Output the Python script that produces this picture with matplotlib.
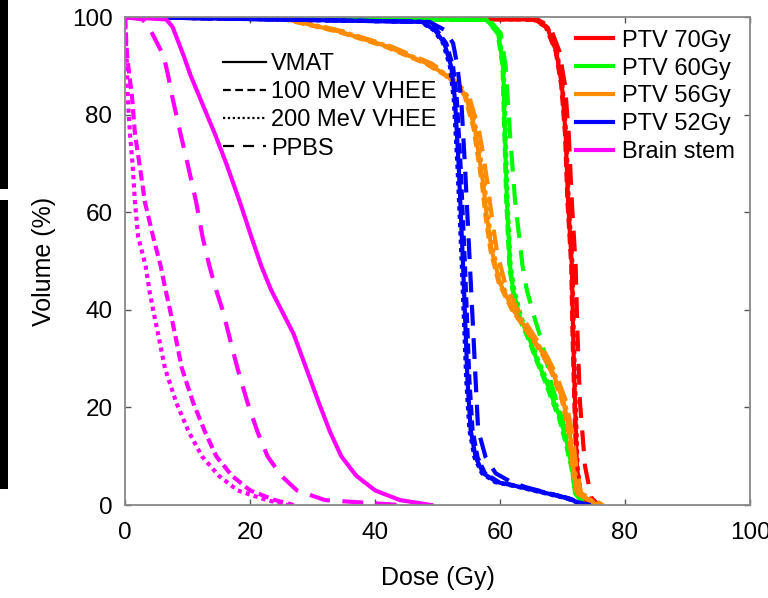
import matplotlib
matplotlib.use("Agg")
import matplotlib.pyplot as plt
from matplotlib.lines import Line2D
from matplotlib.patches import Rectangle

plt.rcParams['font.family'] = ['Liberation Sans', 'DejaVu Sans']

# DVH data: volume levels (%) and dose (Gy) per technique
ptv70_vol = [100, 99.5, 98, 93, 86, 76, 62, 49, 35, 21, 8, 1.5, 0]
ptv70_vmat = [0, 65.5, 67.5, 69.0, 69.9, 70.5, 70.9, 71.5, 71.7, 72.0, 72.3, 72.8, 74.5]
ptv70_v100 = [0, 65.3, 67.3, 68.9, 69.8, 70.4, 70.8, 71.4, 71.6, 71.9, 72.2, 72.9, 74.8]
ptv70_v200 = [0, 65.6, 67.6, 69.1, 70.0, 70.6, 71.0, 71.6, 71.8, 72.1, 72.4, 73.0, 75.0]
ptv70_ppbs = [0, 66.0, 68.0, 69.5, 70.4, 71.0, 71.5, 72.1, 72.4, 72.8, 73.6, 74.6, 75.8]

ptv60_vol = [100, 99.4, 96.7, 90, 76, 62.5, 49, 44, 38.5, 33.8, 29.7, 25, 21.5, 18, 12.7, 7.8, 2.4, 0]
ptv60_vmat = [0, 57.9, 59.7, 60.5, 60.8, 61.1, 61.6, 62.1, 63.2, 64.8, 65.9, 67.5, 68.5, 69.6, 70.7, 71.5, 72.0, 73.5]
ptv60_v100 = [0, 57.8, 59.6, 60.4, 60.7, 61.0, 61.5, 62.0, 63.0, 64.6, 65.8, 67.3, 68.3, 69.4, 70.5, 71.4, 72.1, 73.8]
ptv60_v200 = [0, 58.0, 59.8, 60.6, 60.9, 61.2, 61.7, 62.3, 63.4, 65.0, 66.1, 67.7, 68.7, 69.8, 70.9, 71.6, 72.2, 73.6]
ptv60_ppbs = [0, 58.3, 60.1, 60.9, 61.6, 62.4, 63.6, 64.3, 65.5, 66.6, 67.4, 68.2, 69.0, 69.9, 70.9, 71.7, 72.3, 74.0]

ptv56_vol = [100, 99.5, 97, 94, 90.5, 88, 84, 77, 72.7, 66, 59, 52, 45.5, 40, 35, 31, 27, 21.5, 14.7, 7.8, 2.4, 0]
ptv56_vmat = [0, 26, 34.4, 41.9, 48.3, 51.5, 54.5, 56.0, 56.5, 57.3, 57.9, 58.7, 60.0, 62.1, 64.8, 66.9, 68.5, 70.1, 71.2, 71.7, 72.3, 75.5]
ptv56_v100 = [0, 25.5, 34.0, 41.5, 48.0, 51.3, 54.3, 55.8, 56.3, 57.1, 57.7, 58.5, 59.8, 61.9, 64.6, 66.7, 68.3, 69.9, 71.0, 71.6, 72.4, 75.8]
ptv56_v200 = [0, 26.5, 34.8, 42.2, 48.6, 51.7, 54.7, 56.2, 56.7, 57.5, 58.1, 58.9, 60.2, 62.3, 65.0, 67.1, 68.7, 70.3, 71.4, 71.9, 72.6, 76.0]
ptv56_ppbs = [0, 27.0, 35.0, 42.5, 49.0, 52.0, 55.0, 56.6, 57.2, 58.0, 58.7, 59.5, 60.8, 62.8, 65.3, 67.3, 68.9, 70.5, 71.6, 72.2, 73.0, 76.5]

ptv52_vol = [100, 99, 97.3, 94.6, 89.8, 83, 69.3, 48.8, 25.6, 15.4, 9.8, 6.5, 4.7, 3.7, 2.4, 1.4, 0.4, 0]
ptv52_vmat = [0, 47.5, 49.6, 51.1, 52.2, 52.8, 53.4, 54.1, 54.8, 55.3, 56.1, 57.3, 59.5, 63.2, 67.5, 70.7, 72.8, 74.0]
ptv52_v100 = [0, 47.8, 49.9, 51.4, 52.5, 53.1, 53.7, 54.4, 55.1, 55.6, 56.4, 57.6, 59.8, 63.5, 67.8, 70.9, 73.0, 74.2]
ptv52_v200 = [0, 47.3, 49.4, 50.9, 52.0, 52.6, 53.2, 53.9, 54.6, 55.1, 55.9, 57.1, 59.2, 62.9, 67.2, 70.5, 72.6, 73.8]
ptv52_ppbs = [0, 48.7, 51.2, 52.5, 53.2, 53.8, 54.4, 55.2, 56.1, 56.5, 57.7, 59.3, 61.8, 64.0, 67.8, 70.9, 73.0, 74.5]

brain_vol = [100, 99.5, 98, 95, 92, 88, 84, 80, 76, 70, 62, 55, 49, 44, 40, 35, 28, 21, 15, 10, 6, 3, 1, 0]
brain_vmat = [0, 6.6, 7.6, 8.5, 9.4, 10.5, 11.8, 13.1, 14.4, 16.2, 18.4, 20.2, 21.8, 23.4, 25.0, 27.0, 29.0, 31.0, 32.8, 34.6, 37.0, 40.0, 44.0, 49.0]
brain_v100 = [0, 0.05, 0.1, 0.2, 0.35, 0.7, 1.1, 1.35, 1.6, 2.3, 3.2, 4.5, 5.7, 6.5, 7.2, 8.0, 9.1, 10.9, 12.8, 14.6, 17.1, 20.0, 24.0, 27.0]
brain_v200 = [0, 0.0, 0.05, 0.15, 0.25, 0.35, 0.45, 0.6, 0.8, 1.2, 1.6, 2.1, 3.3, 3.9, 4.5, 5.3, 6.4, 8.2, 10.2, 12.3, 15.0, 18.0, 22.7, 26.0]
brain_ppbs = [0, 2.8, 3.8, 5.0, 6.2, 6.9, 7.5, 8.2, 8.9, 10.0, 11.4, 12.4, 13.5, 14.6, 15.6, 16.6, 18.0, 19.6, 21.2, 22.8, 25.0, 27.5, 32.0, 44.0]

structures = ['PTV 70Gy', 'PTV 60Gy', 'PTV 56Gy', 'PTV 52Gy', 'Brain stem']
techniques = ['VMAT', '100 MeV VHEE', '200 MeV VHEE', 'PPBS']
colors = ['#ff0000', '#00ff00', '#ff8c00', '#0000ff', '#ff00ff']
curves = [
    (ptv70_vol, [ptv70_vmat, ptv70_v100, ptv70_v200, ptv70_ppbs]),
    (ptv60_vol, [ptv60_vmat, ptv60_v100, ptv60_v200, ptv60_ppbs]),
    (ptv56_vol, [ptv56_vmat, ptv56_v100, ptv56_v200, ptv56_ppbs]),
    (ptv52_vol, [ptv52_vmat, ptv52_v100, ptv52_v200, ptv52_ppbs]),
    (brain_vol, [brain_vmat, brain_v100, brain_v200, brain_ppbs]),
]
plot_styles = ['-', (0, (2.5, 1.2)), (0, (1, 1)), (0, (5, 3))]
legend_styles = ['-', (0, (3.5, 2)), (0, (1, 1.2)), (0, (5, 4))]

fig = plt.figure(figsize=(7.68, 5.98), dpi=100)
ax = fig.add_axes([125 / 768, 1 - 505 / 598, 625 / 768, 488 / 598])

for (vol, doses), col in zip(curves, colors):
    for dose, ls in zip(doses, plot_styles):
        ax.plot(dose, vol, color=col, lw=3, ls=ls)

ax.set_xlim(0, 100)
ax.set_ylim(0, 100)
ax.set_xticks([0, 20, 40, 60, 80, 100])
ax.set_yticks([0, 20, 40, 60, 80, 100])
ax.tick_params(direction='in', top=True, right=True, length=4.5, width=1,
               color='#555555', labelsize=17.5)
ax.tick_params(axis='x', pad=12)
ax.tick_params(axis='y', pad=9)
for sp in ax.spines.values():
    sp.set_color('#888888')
    sp.set_linewidth(1.3)

ax.set_xlabel('Dose (Gy)', fontsize=18)
ax.set_ylabel('Volume (%)', fontsize=18)
ax.xaxis.set_label_coords(0.5, -0.149)
ax.xaxis.label.set_va('center')
ax.yaxis.set_label_coords(-0.13, 0.5)
ax.yaxis.label.set_va('center')

tech_handles = [Line2D([], [], color='k', lw=1.6, ls=ls) for ls in legend_styles]
leg1 = ax.legend(tech_handles, techniques, loc='upper left', bbox_to_anchor=(0.156, 0.926),
                 frameon=False, fontsize=17, handlelength=1.85, handletextpad=0.2,
                 labelspacing=0.26, borderpad=0, borderaxespad=0)
ax.add_artist(leg1)

struct_handles = [Line2D([], [], color=c, lw=3) for c in colors]
ax.legend(struct_handles, structures, loc='upper left', bbox_to_anchor=(0.721, 0.974),
          frameon=False, fontsize=17, handlelength=1.6, handletextpad=0.38,
          labelspacing=0.25, borderpad=0, borderaxespad=0)

# black strips from the neighbouring panel on the left edge
fig.add_artist(Rectangle((0, 1 - 189 / 598), 8 / 768, 189 / 598,
                         transform=fig.transFigure, color='k', lw=0))
fig.add_artist(Rectangle((0, 1 - 489 / 598), 8 / 768, 289 / 598,
                         transform=fig.transFigure, color='k', lw=0))

fig.savefig('out.png', dpi=100)
